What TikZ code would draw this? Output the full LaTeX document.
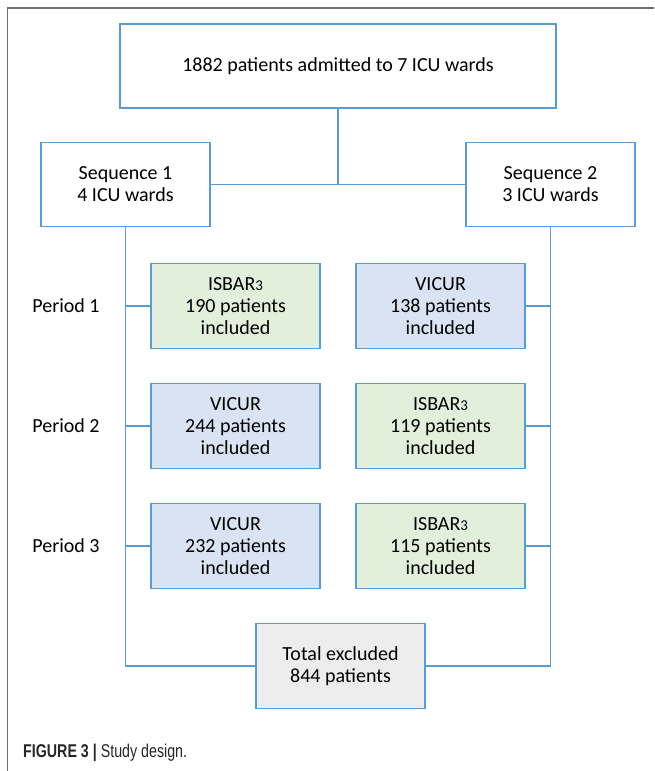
\documentclass[tikz,border=0pt]{standalone}
\usepackage{fontspec}
\setmainfont{Carlito}
\newfontfamily\captionfont[FakeStretch=0.77]{Liberation Sans}
\usetikzlibrary{positioning}

\definecolor{lineblue}{HTML}{5B9BD5}
\definecolor{isbargreen}{HTML}{E2EFDA}
\definecolor{vicurblue}{HTML}{DAE3F3}
\definecolor{excludedgray}{HTML}{EDEDED}
\definecolor{framegray}{HTML}{6F6F6F}

\newcommand{\isbar}{ISBAR{\fontsize{15}{15}\selectfont 3}}

\begin{document}
\begin{tikzpicture}[x=1pt,y=-1pt,
	box/.style={draw=lineblue, line width=1.2pt, align=center, inner sep=0pt,
		minimum width=169pt, minimum height=84.5pt,
		font=\fontsize{20}{22}\selectfont},
	isbar box/.style={box, fill=isbargreen},
	vicur box/.style={box, fill=vicurblue},
	link/.style={draw=lineblue, line width=1.2pt},
	period/.style={font=\fontsize{20}{22}\selectfont}]
	\useasboundingbox (0,0) rectangle (654,771);

	% outer frame
	\draw[framegray, line width=1.2pt] (7.5,771) -- (7.5,8) -- (654,8);

	% admission and sequences
	\node[box, minimum width=436pt, minimum height=84pt] (admitted) at (338,66) {1882 patients admitted to 7 ICU wards};
	\node[box] (seq1) at (125.5,184.5) {Sequence 1\\4 ICU wards};
	\node[box] (seq2) at (550.5,184.5) {Sequence 2\\3 ICU wards};

	% periods
	\foreach \p/\y in {1/306, 2/426, 3/546}
		\node[period] (period\p) at (66,\y) {Period \p};
	\node[isbar box] (s1p1) at (235.5,306) {\isbar\\190 patients\\included};
	\node[vicur box] (s2p1) at (440.5,306) {VICUR\\138 patients\\included};
	\node[vicur box] (s1p2) at (235.5,426) {VICUR\\244 patients\\included};
	\node[isbar box] (s2p2) at (440.5,426) {\isbar\\119 patients\\included};
	\node[vicur box] (s1p3) at (235.5,546) {VICUR\\232 patients\\included};
	\node[isbar box] (s2p3) at (440.5,546) {\isbar\\115 patients\\included};

	% excluded
	\node[box, fill=excludedgray] (excluded) at (340.5,666) {Total excluded\\844 patients};

	% connections
	\draw[link] (seq1.east) -- (seq2.west);
	\draw[link] (admitted.south) -- (admitted.south |- seq1.east);
	\draw[link] (seq1.south) -- (seq1.south |- excluded.west) -- (excluded.west);
	\draw[link] (seq2.south) -- (seq2.south |- excluded.east) -- (excluded.east);
	\foreach \p in {1, 2, 3} {
		\draw[link] (s1p\p.west) -- (s1p\p.west -| seq1.south);
		\draw[link] (s2p\p.east) -- (s2p\p.east -| seq2.south);
	}

	% caption
	\node[anchor=base west, inner sep=0pt, text=black!85,
		font=\captionfont\fontsize{18.5}{20}\selectfont] (caption) at (23,757)
		{\textbf{FIGURE 3 |} Study design.};
\end{tikzpicture}
\end{document}
